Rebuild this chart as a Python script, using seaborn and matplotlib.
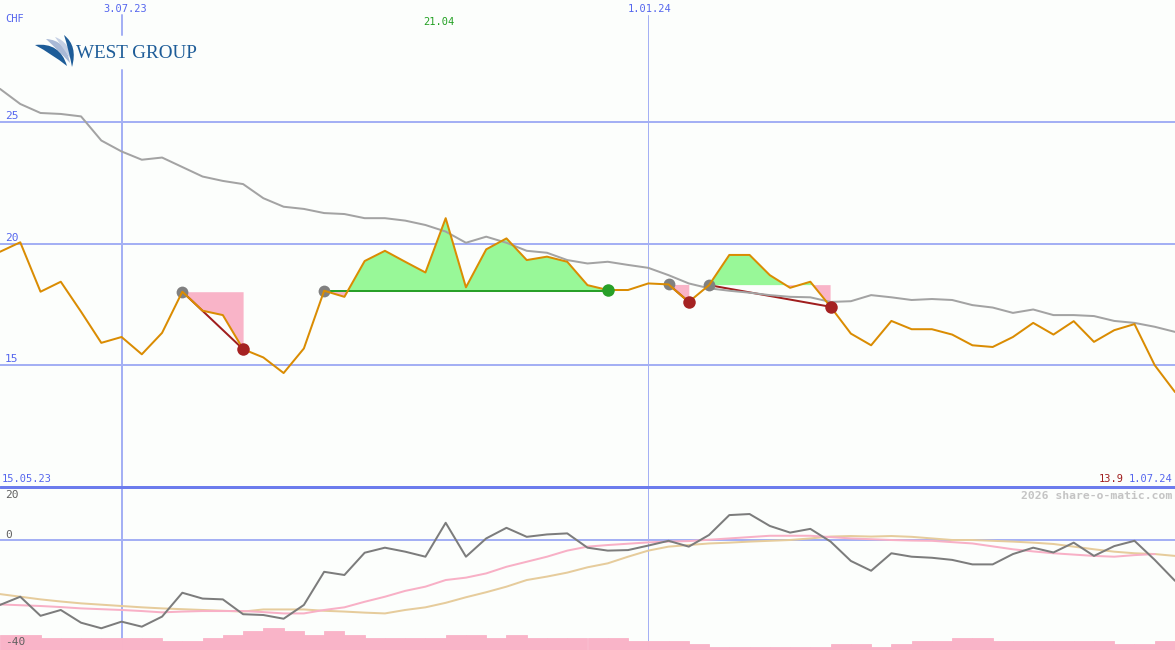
import matplotlib
matplotlib.use("Agg")
import matplotlib.pyplot as plt
from matplotlib.path import Path
from matplotlib.patches import PathPatch
import seaborn as sns

W, H = 1175, 650
BG = "#fcfefc"

# weekly closes 15.05.23 .. 1.07.24
week = list(range(59))
price = [19.66, 20.05, 18.02, 18.43, 17.20, 15.92, 16.16, 15.45, 16.33, 18.02,
         17.24, 17.06, 15.66, 15.32, 14.68, 15.69, 18.06, 17.81, 19.28, 19.70,
         19.25, 18.81, 21.04, 18.20, 19.76, 20.21, 19.32, 19.46, 19.25, 18.29,
         18.09, 18.09, 18.36, 18.32, 17.60, 18.29, 19.53, 19.53, 18.70, 18.18,
         18.43, 17.40, 16.30, 15.82, 16.82, 16.48, 16.48, 16.26, 15.82, 15.75,
         16.16, 16.74, 16.26, 16.81, 15.96, 16.44, 16.69, 15.00, 13.90]
avg_long = [26.35, 25.73, 25.36, 25.32, 25.22, 24.23, 23.78, 23.44, 23.53, 23.14,
            22.75, 22.57, 22.44, 21.86, 21.51, 21.42, 21.25, 21.21, 21.04, 21.04,
            20.94, 20.76, 20.49, 20.03, 20.28, 20.03, 19.70, 19.62, 19.32, 19.18,
            19.25, 19.12, 19.00, 18.70, 18.36, 18.16, 18.06, 17.98, 17.88, 17.81,
            17.79, 17.60, 17.63, 17.88, 17.79, 17.68, 17.72, 17.68, 17.47, 17.37,
            17.15, 17.29, 17.06, 17.06, 17.02, 16.82, 16.74, 16.58, 16.37]

# lower panel
osc = [-24.5, -21.4, -28.6, -26.4, -31.2, -33.3, -30.8, -32.7, -28.9, -19.9,
       -22.1, -22.4, -28.0, -28.3, -29.7, -24.5, -12.0, -13.2, -4.8, -2.9,
       -4.4, -6.3, 6.5, -6.3, 0.6, 4.6, 1.2, 2.1, 2.5, -2.9,
       -4.0, -3.8, -2.1, -0.3, -2.5, 1.9, 9.4, 9.8, 5.3, 2.8,
       4.2, -0.6, -7.9, -11.6, -5.0, -6.3, -6.7, -7.5, -9.2, -9.2,
       -5.3, -2.9, -4.7, -1.0, -6.0, -2.3, -0.3, -7.5, -15.4]
osc_fast = [-24.3, -24.6, -24.9, -25.3, -25.8, -26.1, -26.4, -26.8, -27.3, -27.0,
            -26.8, -26.8, -26.8, -27.2, -27.7, -27.7, -26.4, -25.4, -23.3, -21.4,
            -19.2, -17.6, -15.1, -14.2, -12.6, -10.1, -8.2, -6.3, -4.0, -2.5,
            -1.9, -1.4, -0.9, -0.6, -0.4, 0.1, 0.6, 1.1, 1.6, 1.6,
            1.6, 1.1, 0.6, 0.3, 0.0, -0.2, -0.3, -0.8, -1.3, -2.4,
            -3.5, -4.3, -5.0, -5.5, -6.0, -6.3, -5.7, -5.3]
osc_slow = [-20.4, -21.4, -22.4, -23.2, -23.9, -24.4, -24.9, -25.4, -25.8, -26.1,
            -26.4, -26.7, -27.0, -26.2, -26.2, -26.2, -26.7, -27.0, -27.4, -27.7,
            -26.4, -25.4, -23.7, -21.6, -19.7, -17.6, -15.1, -13.8, -12.3, -10.3,
            -8.8, -6.3, -4.0, -2.5, -1.9, -1.3, -1.0, -0.6, -0.3, 0.0,
            0.6, 1.3, 1.5, 1.3, 1.5, 1.2, 0.6, 0.0, 0.0, -0.3,
            -0.6, -1.0, -1.5, -2.5, -3.5, -4.4, -5.0, -5.3, -6.0]
volume = [-35.8, -35.8, -36.9, -36.9, -36.9, -36.9, -36.9, -36.9, -38.0, -38.0,
          -36.9, -35.8, -34.3, -33.1, -34.3, -35.8, -34.3, -35.8, -36.9, -36.9,
          -36.9, -36.9, -35.8, -35.8, -36.9, -35.8, -36.9, -36.9, -36.9, -36.9,
          -36.9, -38.0, -38.0, -38.0, -39.2, -40.3, -40.3, -40.3, -40.3, -40.3,
          -40.3, -39.2, -39.2, -40.3, -39.2, -38.0, -38.0, -36.9, -36.9, -38.0,
          -38.0, -38.0, -38.0, -38.0, -38.0, -39.2, -39.2, -38.0]

# signals: start week, end week, direction
sig_start = [9, 16, 33, 35]
sig_end = [12, 30, 34, 41]
sig_kind = ["down", "up", "down", "down"]

price_ticks = [25, 20, 15]
osc_ticks = [20, 0, -40]
date_first, date_mid1, date_mid2, date_last = "15.05.23", "3.07.23", "1.01.24", "1.07.24"
mid1_idx, mid2_idx = 6, 32

GRID = "#a4b0f4"
SEP = "#6c7ced"
BLUE_TXT = "#5566ee"
PRICE_C = "#da8c02"
LOGO = "#1d5c98"
PINK = "#f9b4c8"

sns.set_style("white")
plt.rcParams["font.family"] = ["DejaVu Sans Mono"]

fig = plt.figure(figsize=(W / 100, H / 100), dpi=100, facecolor=BG)
ax = fig.add_axes([0, 163 / H, 1, 487 / H])
ax2 = fig.add_axes([0, 0, 1, 163 / H])
for a in (ax, ax2):
    a.set_facecolor(BG)
    a.axis("off")
    a.set_xlim(0, 58)
ax.set_ylim(10, 30)
ax2.set_ylim(-41.5, 20)

px = 72 / 100  # one pixel in points

# grid
for t in price_ticks:
    ax.axhline(t, color=GRID, lw=2 * px, zorder=1)
ax.axvline(mid1_idx, ymin=0, ymax=1 - 70 / 487, color=GRID, lw=2 * px, zorder=1)
ax.axvline(mid1_idx, ymin=1 - 35 / 487, ymax=1 - 15 / 487, color=GRID, lw=2 * px, zorder=1)
ax.axvline(mid2_idx, ymin=0, ymax=1 - 15 / 487, color=GRID, lw=1 * px, zorder=1)
ax2.axhline(0, color=GRID, lw=2 * px, zorder=1)
ax2.axvline(mid1_idx, color=GRID, lw=2 * px, zorder=1)
ax2.axvline(mid2_idx, color=GRID, lw=1 * px, zorder=1)
ax2.axhline(20, color=SEP, lw=3 * px, zorder=6, clip_on=False)

# signal fills
for s, e, k in zip(sig_start, sig_end, sig_kind):
    xs = week[s:e + 1]
    ys = price[s:e + 1]
    lvl = price[s]
    ax.fill_between(xs, ys, lvl, where=[v >= lvl for v in ys], interpolate=True,
                    color="#98f898", lw=0, zorder=2)
    ax.fill_between(xs, ys, lvl, where=[v <= lvl for v in ys], interpolate=True,
                    color=PINK, lw=0, zorder=2)
    if k == "up":
        ax.plot([s, e], [lvl, lvl], color="#28a028", lw=2 * px, zorder=3)
    else:
        ax.plot([s, e], [lvl, price[e]], color="#a01e1e", lw=2 * px, zorder=3)

sns.lineplot(x=week, y=avg_long, ax=ax, color="#a3a3a3", lw=2 * px, zorder=3)
sns.lineplot(x=week, y=price, ax=ax, color=PRICE_C, lw=2 * px, zorder=4)

for s, e, k in zip(sig_start, sig_end, sig_kind):
    ax.plot(s, price[s], "o", color="#808080", ms=8.5, mew=0, zorder=3.5)
    ax.plot(e, price[e], "o", color="#28a028" if k == "up" else "#a52222",
            ms=9, mew=0, zorder=5)

# lower panel
ax2.bar(week[:-1], [v - (-41.5) for v in volume], bottom=-41.5, width=1,
        align="edge", color=PINK, edgecolor=PINK, lw=0.6, zorder=2)
sns.lineplot(x=week, y=osc_slow, ax=ax2, color="#e6cc9c", lw=2 * px, zorder=3)
sns.lineplot(x=week[:-1], y=osc_fast, ax=ax2, color="#f8b0c6", lw=2 * px, zorder=3)
sns.lineplot(x=week, y=osc, ax=ax2, color="#7c7c7c", lw=2 * px, zorder=4)


def put(x, y, s, **kw):
    fig.text(x / W, 1 - y / H, s, va="center", **kw)


put(5, 19, "CHF", color=BLUE_TXT, fontsize=7.5)
put(125, 9, date_mid1, color=BLUE_TXT, fontsize=7.5, ha="center")
put(650, 9, date_mid2, color=BLUE_TXT, fontsize=7.5, ha="center")
imax = price.index(max(price))
ax.text(imax - 0.35, 1 - 22 / 487, f"{max(price):.2f}", transform=ax.get_xaxis_transform(),
        color="#22a022", fontsize=7.5, ha="center", va="center")
for t, yy in zip(price_ticks, [116, 238, 359]):
    put(5, yy, str(t), color=BLUE_TXT, fontsize=8)
put(2, 479, date_first, color=BLUE_TXT, fontsize=7.5)
put(1172, 479, date_last, color=BLUE_TXT, fontsize=7.5, ha="right")
put(1124, 479, f"{price[-1]:.1f}", color="#a01e1e", fontsize=7.5, ha="right")
put(1172, 496, "2026 share-o-matic.com", color="#c4c4c4", fontsize=8.2,
    ha="right", fontweight="bold")
for t, yy in zip(osc_ticks, [495, 535, 642]):
    put(5, yy, str(t), color="#606060", fontsize=8)

# logo
put(76, 54, "WEST GROUP", color=LOGO, fontsize=13.8, family="Liberation Serif")


def swoosh(p0, c1, p1, c2, color):
    v = [(x / W, 1 - y / H) for x, y in [p0, c1, p1, c2, p0]]
    codes = [Path.MOVETO, Path.CURVE3, Path.CURVE3, Path.CURVE3, Path.CURVE3]
    fig.patches.append(PathPatch(Path(v, codes), transform=fig.transFigure,
                                 facecolor=color, edgecolor="none", zorder=10))


swoosh((35, 45), (60, 42), (67, 66), (52, 54), LOGO)
swoosh((46, 39), (66, 40), (70, 63), (58, 50), "#a9b9d6")
swoosh((55, 37), (70, 42), (72, 61), (63, 48), "#c5d0e4")
swoosh((64, 35), (78, 46), (72, 67), (69, 50), LOGO)

fig.savefig("out.png", dpi=100, facecolor=BG)
